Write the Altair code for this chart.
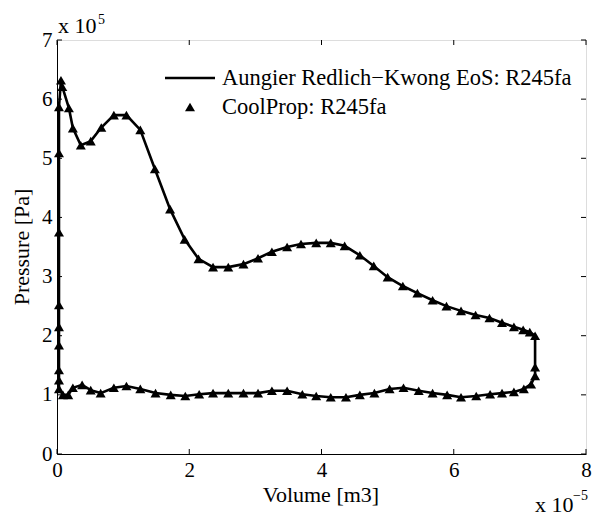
import altair as alt
import pandas as pd

# Units: x in 1e-5 m3, y in 1e5 Pa (as the axis multipliers show)
upper_x = [0.06, 0.08, 0.18, 0.24, 0.36, 0.51, 0.67, 0.86, 1.05, 1.26, 1.48, 1.71, 1.93, 2.14,
           2.36, 2.59, 2.82, 3.04, 3.25, 3.48, 3.69, 3.92, 4.14, 4.35, 4.58, 4.79, 5.00, 5.23,
           5.45, 5.68, 5.89, 6.11, 6.33, 6.54, 6.73, 6.91, 7.05, 7.15, 7.23]
upper_y = [6.32, 6.21, 5.85, 5.51, 5.22, 5.29, 5.52, 5.73, 5.73, 5.48, 4.82, 4.14, 3.63, 3.30,
           3.16, 3.16, 3.21, 3.31, 3.42, 3.50, 3.55, 3.57, 3.57, 3.52, 3.36, 3.18, 2.99, 2.84,
           2.72, 2.60, 2.50, 2.42, 2.35, 2.30, 2.22, 2.15, 2.10, 2.06, 2.00]

lower_x = [7.23, 7.23, 7.17, 7.06, 6.91, 6.73, 6.55, 6.34, 6.11, 5.90, 5.68, 5.47, 5.24, 5.03,
           4.80, 4.58, 4.37, 4.14, 3.92, 3.71, 3.48, 3.25, 3.04, 2.82, 2.59, 2.36, 2.15, 1.94,
           1.72, 1.49, 1.26, 1.05, 0.86, 0.66, 0.51, 0.38, 0.24, 0.17, 0.09]
lower_y = [1.47, 1.32, 1.18, 1.10, 1.05, 1.03, 1.01, 0.98, 0.96, 1.00, 1.03, 1.07, 1.12, 1.10,
           1.03, 1.00, 0.96, 0.96, 0.98, 1.01, 1.07, 1.07, 1.03, 1.03, 1.03, 1.03, 1.01, 0.98,
           1.00, 1.03, 1.10, 1.15, 1.12, 1.03, 1.08, 1.17, 1.12, 1.00, 1.00]

left_x = [0.03, 0.03, 0.03, 0.03, 0.03, 0.03, 0.03, 0.03, 0.03, 0.06]
left_y = [1.10, 1.25, 1.42, 1.84, 2.15, 2.52, 3.75, 5.09, 5.87, 6.32]

x_ticks = [0, 2, 4, 6, 8]
y_ticks = [0, 1, 2, 3, 4, 5, 6, 7]

line_label = "Aungier Redlich\u2212Kwong EoS: R245fa"
point_label = "CoolProp: R245fa"

FONT = "Liberation Serif, DejaVu Serif, serif"
W, H = 529, 414
FS = 21

path_x = upper_x + lower_x + left_x
path_y = upper_y + lower_y + left_y
line_df = pd.DataFrame({"x": path_x, "y": path_y, "order": list(range(len(path_x)))})
pts_df = pd.DataFrame({"x": path_x[:-1], "y": path_y[:-1]})

xs = alt.Scale(domain=[0, 8], nice=False, zero=False)
ys = alt.Scale(domain=[0, 7], nice=False, zero=False)

x_axis = alt.Axis(values=x_ticks, format="d", ticks=False, grid=False, labelFont=FONT,
                  labelFontSize=FS, labelColor="black", labelPadding=5, labelFlush=False,
                  domainColor="black", title=None)
y_axis = alt.Axis(values=y_ticks, format="d", ticks=False, grid=False, labelFont=FONT,
                  labelFontSize=FS, labelColor="black", labelPadding=5, labelFlush=False,
                  domainColor="black", title=None)

line = alt.Chart(line_df).mark_line(color="black", strokeWidth=2.6).encode(
    x=alt.X("x:Q", scale=xs, axis=x_axis),
    y=alt.Y("y:Q", scale=ys, axis=y_axis),
    order="order:Q",
)

pts = alt.Chart(pts_df).mark_point(shape="triangle-up", filled=True, color="black",
                                   size=100, opacity=1).encode(
    x=alt.X("x:Q", scale=xs), y=alt.Y("y:Q", scale=ys))

xt_df = pd.DataFrame({"t": x_ticks})
yt_df = pd.DataFrame({"t": y_ticks})
tick_bottom = alt.Chart(xt_df).mark_rule(color="black", strokeWidth=1).encode(
    x=alt.X("t:Q", scale=xs), y=alt.value(H), y2=alt.value(H - 5))
tick_top = alt.Chart(xt_df).mark_rule(color="black", strokeWidth=1).encode(
    x=alt.X("t:Q", scale=xs), y=alt.value(0), y2=alt.value(5))
tick_left = alt.Chart(yt_df).mark_rule(color="black", strokeWidth=1).encode(
    y=alt.Y("t:Q", scale=ys), x=alt.value(0), x2=alt.value(5))
tick_right = alt.Chart(yt_df).mark_rule(color="black", strokeWidth=1).encode(
    y=alt.Y("t:Q", scale=ys), x=alt.value(W), x2=alt.value(W - 5))

one = pd.DataFrame({"a": [0]})

def txt(text, x, y, size=FS, angle=0, align="left", baseline="middle"):
    return alt.Chart(one).mark_text(text=text, font=FONT, fontSize=size, color="black",
                                    align=align, baseline=baseline, angle=angle).encode(
        x=alt.value(x), y=alt.value(y))

leg_line = alt.Chart(one).mark_rule(color="black", strokeWidth=2.6).encode(
    x=alt.value(108), x2=alt.value(158), y=alt.value(38))
leg_pt = alt.Chart(one).mark_point(shape="triangle-up", filled=True, color="black",
                                   size=100, opacity=1).encode(x=alt.value(133), y=alt.value(67))

texts = [
    txt(line_label, 165, 38, size=22.5),
    txt(point_label, 165, 67, size=22.5),
    txt("x 10", 1, -7, size=22, baseline="alphabetic"),
    txt("5", 41, -16, size=14, baseline="alphabetic"),
    txt("x 10", 478, 472, size=22, baseline="alphabetic"),
    txt("\u22125", 516, 460, size=14, baseline="alphabetic"),
    txt("Volume [m3]", 264, 455, size=22, align="center"),
    txt("Pressure [Pa]", -35, 207, size=22, angle=270, align="center"),
]

chart = alt.layer(line, pts, tick_bottom, tick_top, tick_left, tick_right,
                  leg_line, leg_pt, *texts).properties(
    width=W, height=H,
    autosize=alt.AutoSizeParams(type="none"),
    padding={"left": 57, "top": 40, "right": 6, "bottom": 63},
).configure_view(stroke="black", strokeWidth=1).configure(background="white")

chart.save("out.html", embed_options={"renderer": "svg", "actions": False})
